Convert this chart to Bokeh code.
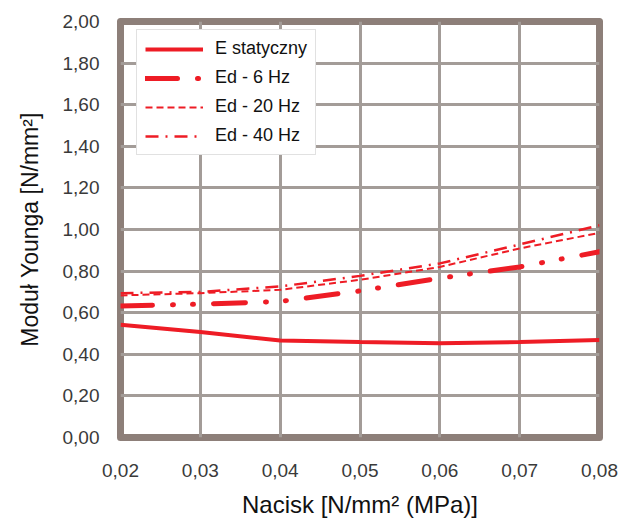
from bokeh.plotting import figure
from bokeh.models import FixedTicker, Legend, LegendItem, Range1d
from bokeh.embed import file_html
from bokeh.resources import INLINE

# ---- data ----
nacisk = [0.02, 0.03, 0.04, 0.05, 0.06, 0.07, 0.08]
e_statyczny = [0.542, 0.507, 0.466, 0.459, 0.453, 0.459, 0.469]
ed_6hz = [0.632, 0.641, 0.654, 0.705, 0.766, 0.820, 0.893]
ed_20hz = [0.683, 0.694, 0.710, 0.758, 0.820, 0.909, 0.984]
ed_40hz = [0.694, 0.700, 0.726, 0.777, 0.837, 0.928, 1.020]
series_names = ["E statyczny", "Ed - 6 Hz", "Ed - 20 Hz", "Ed - 40 Hz"]

x_ticks = [0.02, 0.03, 0.04, 0.05, 0.06, 0.07, 0.08]
x_labels = ["0,02", "0,03", "0,04", "0,05", "0,06", "0,07", "0,08"]
y_ticks = [0.0, 0.2, 0.4, 0.6, 0.8, 1.0, 1.2, 1.4, 1.6, 1.8, 2.0]
y_labels = ["0,00", "0,20", "0,40", "0,60", "0,80", "1,00", "1,20", "1,40", "1,60", "1,80", "2,00"]

x_title = "Nacisk [N/mm² (MPa)]"
y_title = "Moduł Younga [N/mm²]"

FONT = "Liberation Sans"
RED = "#ee1c25"
FRAME = "#8d7f79"
GRID = "#a39c98"

p = figure(width=620, height=520, output_backend="svg", toolbar_location=None,
           x_range=Range1d(0.02, 0.08), y_range=Range1d(0.0, 2.0),
           min_border_left=120, min_border_right=21, min_border_top=21,
           min_border_bottom=80)

p.background_fill_color = "white"
p.border_fill_color = "white"
p.outline_line_color = FRAME
p.outline_line_width = 7
p.outline_line_join = "round"

for ax, ticks, labels, title in ((p.xaxis[0], x_ticks, x_labels, x_title),
                                  (p.yaxis[0], y_ticks, y_labels, y_title)):
    ax.ticker = FixedTicker(ticks=ticks, minor_ticks=[])
    ax.major_label_overrides = {t: l for t, l in zip(ticks, labels)}
    ax.axis_label = title
    ax.axis_line_color = None
    ax.major_tick_line_color = None
    ax.minor_tick_line_color = None
    ax.major_tick_out = 0
    ax.major_tick_in = 0
    ax.major_label_text_font = FONT
    ax.major_label_text_font_size = "19px"
    ax.major_label_text_color = "#3a3a3a"
    ax.axis_label_text_font = FONT
    ax.axis_label_text_font_style = "normal"
    ax.axis_label_text_color = "#111111"

p.xaxis.axis_label_text_font_size = "24px"
p.yaxis.axis_label_text_font_size = "23px"
p.xaxis.major_label_standoff = 26
p.xaxis.axis_label_standoff = 11
p.yaxis.major_label_standoff = 21
p.yaxis.axis_label_standoff = 17

for g in (p.xgrid[0], p.ygrid[0]):
    g.grid_line_color = GRID
    g.grid_line_width = 3

r_e = p.line(nacisk, e_statyczny, line_color=RED, line_width=4)
r_6 = p.line(nacisk, ed_6hz, line_color=RED, line_width=5, line_cap="round",
             line_dash="32 20 1 19 1 20")
r_20 = p.line(nacisk, ed_20hz, line_color=RED, line_width=2, line_dash="7 4")
r_40 = p.line(nacisk, ed_40hz, line_color=RED, line_width=2.5,
              line_dash="13 7 2 7")

legend = Legend(items=[LegendItem(label=n, renderers=[r])
                       for n, r in zip(series_names, [r_e, r_6, r_20, r_40])],
                location=(16, 282))
legend.label_text_font = FONT
legend.label_text_font_size = "18px"
legend.label_text_color = "#111111"
legend.glyph_width = 58
legend.glyph_height = 20
legend.label_height = 20
legend.label_standoff = 12
legend.spacing = 8
legend.padding = 8
legend.margin = 0
legend.border_line_color = "#c4c4c4"
legend.border_line_width = 1
legend.background_fill_color = "white"
legend.background_fill_alpha = 1.0
p.add_layout(legend, "center")

open("out.html", "w").write(file_html(p, INLINE))
